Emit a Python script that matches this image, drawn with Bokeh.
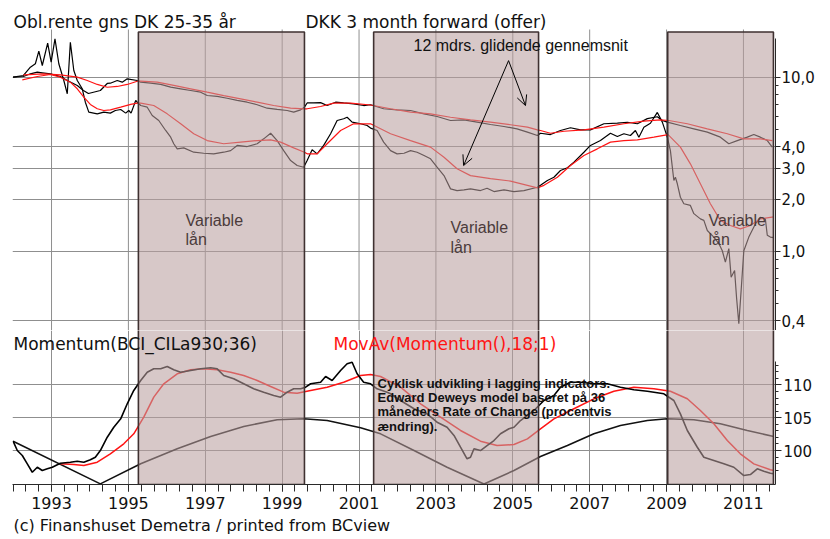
from bokeh.plotting import figure
from bokeh.models import Range1d, FixedTicker, Label, Arrow, OpenHead, Title
from bokeh.layouts import column
from bokeh.embed import file_html
from bokeh.resources import INLINE

# ---------------- data ----------------
# Long bond rate 25-35 years (%), (year, value)
LONG_RATE = [(1992.00, 10.04), (1992.27, 10.13), (1992.45, 10.50), (1992.63, 10.73), (1992.76, 10.64),
             (1992.97, 10.50), (1993.23, 10.13), (1993.41, 9.61), (1993.67, 9.00), (1993.83, 8.42),
             (1993.96, 8.09), (1994.09, 8.23), (1994.27, 8.42), (1994.45, 9.24), (1994.53, 9.27),
             (1994.71, 9.61), (1994.84, 9.40), (1994.97, 9.83), (1995.23, 9.61), (1995.32, 9.40),
             (1995.58, 9.27), (1995.84, 9.12), (1996.10, 8.80), (1996.36, 8.61), (1996.62, 8.42),
             (1996.88, 8.23), (1997.05, 7.88), (1997.31, 7.78), (1997.57, 7.60), (1997.83, 7.38),
             (1998.09, 7.21), (1998.35, 6.97), (1998.61, 6.66), (1998.87, 6.55), (1999.13, 6.46),
             (1999.30, 6.32), (1999.48, 6.52), (1999.58, 6.75), (1999.65, 7.14), (1999.82, 7.14),
             (2000.00, 7.17), (2000.17, 6.90), (2000.39, 7.21), (2000.60, 7.14), (2000.86, 7.06),
             (2001.12, 6.90), (2001.30, 6.97), (2001.64, 6.61), (2001.99, 6.52), (2002.34, 6.46),
             (2002.69, 6.18), (2003.03, 5.97), (2003.38, 5.66), (2003.73, 5.71), (2004.07, 5.54),
             (2004.42, 5.37), (2004.77, 5.23), (2005.11, 5.07), (2005.38, 4.85), (2005.64, 4.64),
             (2005.72, 4.78), (2005.98, 4.70), (2006.24, 4.96), (2006.50, 5.14), (2006.76, 5.00),
             (2007.02, 5.00), (2007.37, 5.42), (2007.72, 5.46), (2007.98, 5.53), (2008.24, 5.42),
             (2008.50, 5.80), (2008.76, 5.95), (2008.89, 5.66), (2009.02, 5.54), (2009.36, 5.30),
             (2009.71, 5.07), (2010.06, 4.85), (2010.40, 4.54), (2010.62, 4.16), (2010.84, 4.34),
             (2011.10, 4.54), (2011.27, 4.70), (2011.44, 4.54), (2011.62, 4.34), (2011.75, 3.98)]

# DKK 3 month forward (offer) (%)
FORWARD_3M = [(1992.00, 10.04), (1992.27, 10.27), (1992.45, 11.46), (1992.58, 11.99), (1992.67, 14.16),
              (1992.76, 11.72), (1992.90, 15.74), (1992.99, 12.24), (1993.09, 16.69), (1993.19, 11.99),
              (1993.32, 9.61), (1993.41, 8.06), (1993.49, 15.95), (1993.58, 10.97), (1993.67, 9.61),
              (1993.80, 8.61), (1993.88, 7.21), (1993.97, 6.32), (1994.19, 6.18), (1994.36, 6.32),
              (1994.53, 6.24), (1994.66, 6.46), (1994.80, 6.55), (1994.93, 6.24), (1995.01, 6.46),
              (1995.07, 6.24), (1995.19, 7.38), (1995.23, 7.21), (1995.32, 6.90), (1995.49, 6.75),
              (1995.62, 6.05), (1995.79, 5.66), (1995.97, 4.96), (1996.10, 4.54), (1996.18, 4.16),
              (1996.27, 3.89), (1996.44, 3.94), (1996.70, 3.72), (1996.96, 3.67), (1997.22, 3.64),
              (1997.48, 3.72), (1997.66, 3.80), (1997.83, 4.07), (1998.09, 4.01), (1998.35, 4.16),
              (1998.52, 4.44), (1998.70, 4.78), (1998.87, 4.34), (1999.04, 3.80), (1999.22, 3.33),
              (1999.39, 3.12), (1999.56, 3.05), (1999.65, 3.33), (1999.78, 3.84), (1999.91, 3.64),
              (2000.08, 4.07), (2000.26, 4.75), (2000.43, 5.66), (2000.60, 5.79), (2000.69, 5.91),
              (2000.82, 5.54), (2001.04, 5.42), (2001.21, 5.30), (2001.30, 5.12), (2001.47, 4.96),
              (2001.64, 4.25), (2001.82, 3.80), (2001.99, 3.64), (2002.17, 3.67), (2002.34, 3.80),
              (2002.51, 3.72), (2002.69, 3.56), (2002.86, 3.41), (2003.03, 3.05), (2003.21, 2.73),
              (2003.38, 2.29), (2003.55, 2.24), (2003.73, 2.26), (2003.90, 2.29), (2004.16, 2.24),
              (2004.33, 2.31), (2004.51, 2.21), (2004.77, 2.26), (2005.03, 2.21), (2005.29, 2.24),
              (2005.64, 2.34), (2005.72, 2.40), (2005.90, 2.56), (2006.07, 2.67), (2006.24, 2.92),
              (2006.42, 3.03), (2006.59, 3.26), (2006.85, 3.72), (2007.02, 4.07), (2007.28, 4.34),
              (2007.54, 4.78), (2007.72, 4.58), (2007.89, 4.75), (2008.06, 4.64), (2008.19, 4.96),
              (2008.28, 4.54), (2008.41, 5.18), (2008.58, 5.46), (2008.76, 6.30), (2008.89, 5.54),
              (2009.02, 4.54), (2009.10, 3.80), (2009.19, 2.56), (2009.23, 2.67), (2009.28, 2.45),
              (2009.36, 2.05), (2009.45, 1.88), (2009.62, 1.84), (2009.71, 1.65), (2009.88, 1.54),
              (2009.97, 1.51), (2010.06, 1.32), (2010.23, 1.21), (2010.36, 1.11), (2010.45, 1.01),
              (2010.53, 0.868), (2010.62, 1.04), (2010.68, 0.712), (2010.77, 0.778), (2010.82, 0.546),
              (2010.88, 0.384), (2010.94, 0.597), (2011.01, 1.01), (2011.14, 1.21), (2011.31, 1.44),
              (2011.44, 1.57), (2011.57, 1.54), (2011.62, 1.24), (2011.70, 1.21), (2011.79, 1.20)]

# 12 month moving average of the long rate
LONG_RATE_MA = [(1992.27, 10.36), (1992.79, 10.50), (1993.23, 10.36), (1993.67, 10.04), (1993.93, 9.61),
                (1994.19, 9.12), (1994.45, 8.79), (1994.71, 8.88), (1994.97, 9.12), (1995.23, 9.52),
                (1995.32, 9.52), (1995.75, 9.40), (1996.18, 9.00), (1996.62, 8.61), (1997.05, 8.23),
                (1997.48, 7.87), (1997.92, 7.53), (1998.35, 7.21), (1998.78, 6.90), (1999.22, 6.66),
                (1999.58, 6.61), (1999.65, 6.61), (2000.00, 6.81), (2000.34, 7.12), (2000.78, 7.12),
                (2001.30, 6.95), (2001.82, 6.61), (2002.34, 6.32), (2002.86, 6.18), (2003.38, 5.91),
                (2003.90, 5.71), (2004.42, 5.54), (2004.94, 5.35), (2005.38, 5.18), (2005.64, 5.00),
                (2005.72, 4.96), (2005.98, 4.78), (2006.33, 4.91), (2006.85, 5.00), (2007.37, 5.18),
                (2007.89, 5.42), (2008.41, 5.61), (2008.84, 5.71), (2009.06, 5.66), (2009.54, 5.42),
                (2010.06, 5.07), (2010.58, 4.75), (2011.01, 4.44), (2011.44, 4.44), (2011.75, 4.34)]

# 12 month moving average of the 3 month forward rate
FORWARD_3M_MA = [(1992.24, 9.70), (1992.63, 10.13), (1992.97, 10.40), (1993.23, 10.04), (1993.49, 9.40),
                 (1993.67, 8.61), (1993.84, 7.71), (1994.01, 7.00), (1994.19, 6.61), (1994.36, 6.46),
                 (1994.53, 6.52), (1994.80, 6.75), (1995.06, 7.00), (1995.23, 7.12), (1995.32, 7.12),
                 (1995.66, 6.90), (1996.01, 6.18), (1996.36, 5.42), (1996.70, 4.75), (1997.05, 4.34),
                 (1997.48, 4.16), (1997.92, 4.25), (1998.35, 4.34), (1998.70, 4.38), (1998.96, 4.25),
                 (1999.30, 3.94), (1999.58, 3.72), (1999.65, 3.64), (1999.91, 3.64), (2000.17, 4.16),
                 (2000.52, 4.96), (2000.86, 5.42), (2001.30, 5.42), (2001.82, 4.75), (2002.34, 4.34),
                 (2002.86, 3.98), (2003.21, 3.48), (2003.55, 2.99), (2003.90, 2.73), (2004.42, 2.62),
                 (2004.94, 2.54), (2005.38, 2.40), (2005.64, 2.32), (2005.81, 2.40), (2006.16, 2.67),
                 (2006.50, 3.12), (2006.85, 3.56), (2007.20, 3.89), (2007.54, 4.25), (2007.89, 4.34),
                 (2008.24, 4.38), (2008.67, 4.54), (2009.04, 4.70), (2009.36, 3.98), (2009.62, 3.19),
                 (2009.88, 2.45), (2010.14, 1.88), (2010.40, 1.51), (2010.66, 1.41), (2010.92, 1.35),
                 (2011.18, 1.41), (2011.44, 1.54), (2011.70, 1.57), (2011.79, 1.58)]

# Momentum(BCI_CILa930;36)
MOMENTUM = [(1992.00, 101.42), (1992.11, 100.00), (1992.24, 99.24), (1992.37, 97.97), (1992.50, 96.69),
            (1992.63, 97.45), (1992.76, 96.95), (1992.89, 97.21), (1993.02, 97.45), (1993.23, 98.06),
            (1993.49, 98.22), (1993.67, 98.37), (1993.84, 98.22), (1994.01, 98.58), (1994.14, 98.98),
            (1994.27, 100.00), (1994.45, 102.03), (1994.62, 103.55), (1994.80, 104.83), (1994.97, 107.12),
            (1995.14, 109.15), (1995.32, 110.67), (1995.49, 111.94), (1995.66, 112.45), (1995.84, 112.45),
            (1996.01, 112.80), (1996.18, 112.30), (1996.36, 111.94), (1996.62, 112.20), (1996.88, 112.45),
            (1997.14, 112.61), (1997.31, 112.45), (1997.48, 111.43), (1997.74, 110.93), (1998.00, 110.17),
            (1998.26, 109.41), (1998.52, 108.89), (1998.78, 108.38), (1998.96, 108.13), (1999.13, 108.89),
            (1999.30, 109.41), (1999.48, 109.41), (1999.61, 109.65), (1999.74, 110.17), (2000.00, 110.41),
            (2000.13, 111.28), (2000.30, 110.67), (2000.52, 112.20), (2000.69, 113.22), (2000.82, 113.46),
            (2000.95, 111.69), (2001.12, 110.41), (2001.30, 110.17), (2001.47, 109.41), (2001.73, 108.89),
            (2001.82, 108.64), (2002.08, 107.62), (2002.43, 106.36), (2002.77, 105.59), (2003.03, 104.31),
            (2003.29, 103.55), (2003.47, 102.29), (2003.64, 100.50), (2003.81, 98.73), (2003.90, 98.98),
            (2003.99, 100.26), (2004.16, 100.00), (2004.33, 100.76), (2004.51, 101.52), (2004.68, 102.55),
            (2004.90, 103.31), (2005.03, 103.55), (2005.20, 104.57), (2005.38, 105.34), (2005.55, 106.10),
            (2005.68, 106.86), (2005.81, 107.62), (2006.07, 108.38), (2006.24, 109.65), (2006.50, 110.41),
            (2006.76, 110.41), (2007.11, 110.17), (2007.46, 110.17), (2007.80, 109.65), (2008.15, 109.25),
            (2008.50, 109.04), (2008.93, 108.64), (2009.19, 107.62), (2009.36, 105.59), (2009.54, 103.05),
            (2009.80, 100.50), (2009.97, 98.98), (2010.23, 98.48), (2010.49, 97.97), (2010.75, 97.45),
            (2011.01, 96.19), (2011.18, 96.34), (2011.36, 97.21), (2011.53, 96.84), (2011.70, 96.54),
            (2011.79, 96.45)]

# MovAv(Momentum(),18;1)
MOMENTUM_MA = [(1993.23, 97.97), (1993.58, 97.87), (1993.84, 97.71), (1994.19, 98.22), (1994.53, 99.50),
               (1994.88, 101.02), (1995.14, 102.55), (1995.40, 105.08), (1995.66, 108.13), (1995.92, 110.17),
               (1996.27, 111.69), (1996.62, 112.30), (1996.96, 112.45), (1997.31, 112.30), (1997.66, 111.94),
               (1998.00, 111.43), (1998.35, 110.67), (1998.70, 109.76), (1999.04, 108.89), (1999.39, 108.73),
               (1999.74, 109.15), (2000.17, 109.65), (2000.60, 110.41), (2001.04, 111.43), (2001.30, 111.59),
               (2001.56, 111.28), (2002.08, 109.65), (2002.60, 107.12), (2003.12, 105.08), (2003.64, 103.05),
               (2004.16, 101.42), (2004.59, 100.76), (2005.03, 100.91), (2005.38, 101.78), (2005.72, 103.31),
               (2006.07, 104.83), (2006.59, 106.36), (2007.11, 107.88), (2007.63, 109.04), (2008.15, 109.65),
               (2008.67, 109.41), (2009.10, 109.04), (2009.54, 107.88), (2009.88, 106.10), (2010.23, 104.07),
               (2010.58, 101.52), (2010.92, 99.50), (2011.27, 97.97), (2011.70, 97.06), (2011.79, 96.95)]

# Edward Dewey cycle model
DEWEY = [(1992.00, 101.42), (1994.27, 94.92), (1995.32, 97.97), (1996.27, 100.26), (1997.14, 102.13),
         (1998.00, 103.66), (1998.87, 104.68), (1999.56, 104.83), (2000.17, 104.57), (2001.04, 103.46),
         (2001.56, 102.54), (2002.43, 100.00), (2003.29, 97.45), (2004.25, 94.90), (2005.03, 96.95),
         (2005.72, 99.09), (2006.42, 100.76), (2007.11, 102.55), (2007.80, 103.81), (2008.50, 104.57),
         (2009.02, 104.83), (2009.71, 104.68), (2010.40, 104.07), (2011.10, 103.05), (2011.79, 102.13)]

# Shaded "Variable lån" periods
SHADE_START = [1995.26, 2001.38, 2009.03]
SHADE_END = [1999.58, 2005.67, 2011.78]

YEAR_TICKS = [1993, 1995, 1997, 1999, 2001, 2003, 2005, 2007, 2009, 2011]
YEAR_LABELS = ["1993", "1995", "1997", "1999", "2001", "2003", "2005", "2007", "2009", "2011"]
TOP_TICKS = [0.4, 1.0, 2.0, 3.0, 4.0, 10.0]
TOP_TICK_LABELS = ["0,4", "1,0", "2,0", "3,0", "4,0", "10,0"]
TOP_MINOR = [0.5, 0.6, 0.7, 0.8, 0.9, 5, 6, 7, 8, 9]
BOT_TICKS = [100, 105, 110]
BOT_TICK_LABELS = ["100", "105", "110"]
BOT_MINOR = list(range(97, 114))

# ---------------- layout constants ----------------
X_START, X_END = 1991.985, 2011.834
TOP_LO, TOP_HI = 0.3515, 27.70
GRID_TOP = 18.87      # where the vertical grid lines of the upper panel stop
SHADE_TOP = 18.26
BOT_LO, BOT_HI = 94.82, 118.29

SANS = "DejaVu Sans"
ARIAL = "Liberation Sans"
GRID = "#8f8f8f"
SHADE_FILL = "#b89e9e"
SHADE_ALPHA = 0.57
SHADE_LINE = "#3f3131"
RED = "#ff1414"
AXIS = "#2a2a2a"


def xy(pairs):
    return [p[0] for p in pairs], [p[1] for p in pairs]


minor_years = [1992 + k / 3 for k in range(0, 60)]

# ---------------- top panel ----------------
top = figure(width=830, height=330, x_range=Range1d(X_START, X_END),
             y_range=Range1d(TOP_LO, TOP_HI), y_axis_type="log",
             y_axis_location="right", x_axis_location=None,
             toolbar_location=None, output_backend="svg",
             min_border_left=12, min_border_right=55, min_border_top=0, min_border_bottom=0)
top.outline_line_color = None
top.xgrid.visible = False
top.ygrid.ticker = FixedTicker(ticks=TOP_TICKS)
top.ygrid.grid_line_color = GRID
ya = top.yaxis[0]
ya.ticker = FixedTicker(ticks=TOP_TICKS, minor_ticks=TOP_MINOR)
ya.bounds = (TOP_LO, 16.7)
ya.axis_line_color = AXIS
ya.major_tick_line_color = AXIS
ya.minor_tick_line_color = AXIS
ya.major_tick_out = 5
ya.major_tick_in = 0
ya.minor_tick_out = 3
ya.minor_tick_in = 0
ya.major_label_overrides = dict(zip(TOP_TICKS, TOP_TICK_LABELS))
ya.major_label_standoff = 1
ya.major_label_text_font = SANS
ya.major_label_text_font_size = "15px"
ya.major_label_text_color = "#111111"

# vertical grid lines of the upper panel (stop at the panel's top edge)
top.segment(x0=YEAR_TICKS, y0=[0.2] * len(YEAR_TICKS), x1=YEAR_TICKS, y1=[GRID_TOP] * len(YEAR_TICKS),
            line_color=GRID, line_width=1)

for series, col in ((LONG_RATE, "black"), (FORWARD_3M, "black"),
                    (LONG_RATE_MA, RED), (FORWARD_3M_MA, RED)):
    xs, ys = xy(series)
    top.line(xs, ys, line_color=col, line_width=1.2)

top.quad(left=SHADE_START, right=SHADE_END, bottom=[0.2] * 3, top=[SHADE_TOP] * 3,
         fill_color=SHADE_FILL, fill_alpha=SHADE_ALPHA, line_color=SHADE_LINE, line_width=1.6)

top.add_layout(Label(x=1, y=309, x_units="screen", y_units="screen", text="Obl.rente gns DK 25-35 år",
                     text_baseline="middle", text_font=SANS, text_font_size="17px", text_color="#111111"))
top.add_layout(Label(x=293, y=309, x_units="screen", y_units="screen", text="DKK 3 month forward (offer)",
                     text_baseline="middle", text_font=SANS, text_font_size="17px", text_color="#111111"))

top.add_layout(Label(x=2002.417, y=15.27, text="12 mdrs. glidende gennemsnit", text_baseline="middle",
                     text_font=ARIAL, text_font_size="16px", text_color="#111111"))
top.add_layout(Arrow(end=OpenHead(size=10, line_width=1, line_color="black"),
                     x_start=2004.89, y_start=12.5, x_end=2003.72, y_end=3.12,
                     line_color="black", line_width=1))
top.add_layout(Arrow(end=OpenHead(size=10, line_width=1, line_color="black"),
                     x_start=2004.89, y_start=12.5, x_end=2005.33, y_end=6.9,
                     line_color="black", line_width=1))

for lx, y1, y2 in ((1996.486, 1.507, 1.172), (2003.38, 1.374, 1.054), (2010.09, 1.507, 1.172)):
    top.add_layout(Label(x=lx, y=y1, text="Variable", text_baseline="middle", text_font=ARIAL,
                         text_font_size="16px", text_color="#4b3b3b"))
    top.add_layout(Label(x=lx, y=y2, text="lån", text_baseline="middle", text_font=ARIAL,
                         text_font_size="16px", text_color="#4b3b3b"))

# ---------------- bottom panel ----------------
bot = figure(width=830, height=209, x_range=top.x_range, y_range=Range1d(BOT_LO, BOT_HI),
             y_axis_location="right", toolbar_location=None, output_backend="svg",
             min_border_left=12, min_border_right=55, min_border_top=0, min_border_bottom=55)
bot.outline_line_color = None
bot.xgrid.ticker = FixedTicker(ticks=YEAR_TICKS)
bot.ygrid.ticker = FixedTicker(ticks=BOT_TICKS)
bot.xgrid.grid_line_color = GRID
bot.ygrid.grid_line_color = GRID

xa = bot.xaxis[0]
xa.ticker = FixedTicker(ticks=YEAR_TICKS, minor_ticks=minor_years)
xa.major_label_overrides = dict(zip(YEAR_TICKS, YEAR_LABELS))
xa.axis_line_color = AXIS
xa.major_tick_line_color = AXIS
xa.minor_tick_line_color = AXIS
xa.major_tick_out = 7
xa.major_tick_in = 0
xa.minor_tick_out = 7
xa.minor_tick_in = 0
xa.major_label_standoff = 5
xa.major_label_text_font = SANS
xa.major_label_text_font_size = "16px"
xa.major_label_text_color = "#111111"

yb = bot.yaxis[0]
yb.ticker = FixedTicker(ticks=BOT_TICKS, minor_ticks=BOT_MINOR)
yb.major_label_overrides = dict(zip(BOT_TICKS, BOT_TICK_LABELS))
yb.bounds = (BOT_LO, 113.5)
yb.axis_line_color = AXIS
yb.major_tick_line_color = AXIS
yb.minor_tick_line_color = AXIS
yb.major_tick_out = 6
yb.major_tick_in = 0
yb.minor_tick_out = 3
yb.minor_tick_in = 0
yb.major_label_standoff = 2
yb.major_label_text_font = SANS
yb.major_label_text_font_size = "15px"
yb.major_label_text_color = "#111111"

xs, ys = xy(DEWEY)
bot.line(xs, ys, line_color="#111111", line_width=1.6)
xs, ys = xy(MOMENTUM_MA)
bot.line(xs, ys, line_color=RED, line_width=1.5)
xs, ys = xy(MOMENTUM)
bot.line(xs, ys, line_color="black", line_width=1.6)

bot.quad(left=SHADE_START, right=SHADE_END, bottom=[BOT_LO] * 3, top=[130] * 3,
         fill_color=SHADE_FILL, fill_alpha=SHADE_ALPHA, line_color=SHADE_LINE, line_width=1.6)

bot.add_layout(Label(x=1, y=141, x_units="screen", y_units="screen", text="Momentum(BCI_CILa930;36)",
                     text_baseline="middle", text_font=SANS, text_font_size="17px", text_color="#111111"))
bot.add_layout(Label(x=321, y=141, x_units="screen", y_units="screen", text="MovAv(Momentum(),18;1)",
                     text_baseline="middle", text_font=SANS, text_font_size="17px", text_color=RED))

NOTE_LINES = ["Cyklisk udvikling i lagging indicators.", "Edward Deweys model baseret på 36",
              "måneders Rate of Change (procentvis", "ændring)."]
NOTE_Y = [110.21, 108.08, 105.95, 103.66]
for t, yv in zip(NOTE_LINES, NOTE_Y):
    bot.add_layout(Label(x=2001.481, y=yv, text=t, text_baseline="middle", text_font=ARIAL,
                         text_font_style="bold", text_font_size="13px", text_color="#111111"))

footer = Title(text="(c) Finanshuset Demetra  / printed from BCview", align="left", offset=1,
               standoff=5, text_font=SANS, text_font_size="16px", text_font_style="normal",
               text_color="#111111")
bot.add_layout(footer, "below")

layout = column(top, bot)
open("out.html", "w").write(file_html(layout, INLINE))
